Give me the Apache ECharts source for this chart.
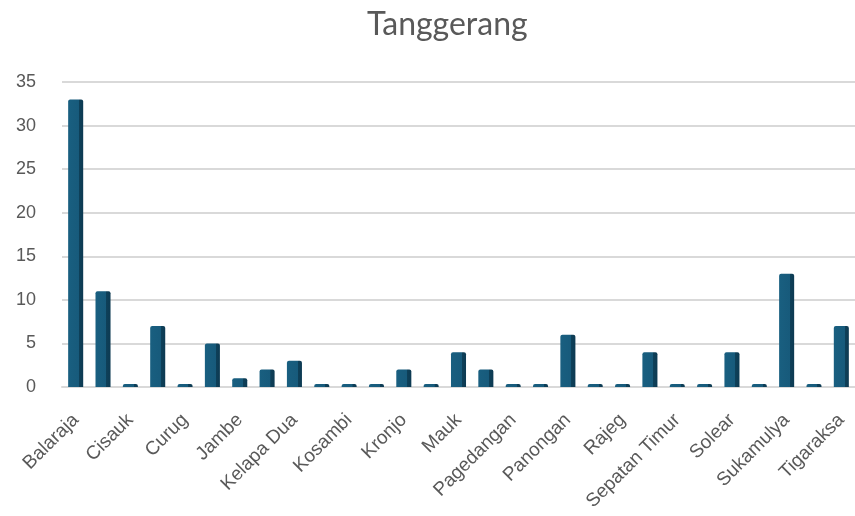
<!DOCTYPE html>
<html>
<head>
<meta charset="utf-8">
<script src="https://cdn.jsdelivr.net/npm/echarts@6/dist/echarts.min.js"></script>
<style>
  html, body { margin: 0; padding: 0; background: #ffffff; }
  #chart { width: 855px; height: 516px; }
</style>
</head>
<body>
<div id="chart"></div>
<script>
// Kecamatan in Kabupaten Tangerang, alphabetical
const kecamatan = [
  'Balaraja', 'Cikupa', 'Cisauk', 'Cisoka', 'Curug', 'Gunung Kaler', 'Jambe', 'Jayanti',
  'Kelapa Dua', 'Kemiri', 'Kosambi', 'Kresek', 'Kronjo', 'Legok', 'Mauk', 'Mekar Baru',
  'Pagedangan', 'Pakuhaji', 'Panongan', 'Pasar Kemis', 'Rajeg', 'Sepatan', 'Sepatan Timur',
  'Sindang Jaya', 'Solear', 'Sukadiri', 'Sukamulya', 'Teluknaga', 'Tigaraksa'
];
const jumlah = [
  33, 11, 0, 7, 0, 5, 1, 2,
  3, 0, 0, 0, 2, 0, 4, 2,
  0, 0, 6, 0, 0, 4, 0,
  0, 4, 0, 13, 0, 7
];
const yTicks = [0, 5, 10, 15, 20, 25, 30, 35];

const chart = echarts.init(document.getElementById('chart'), null, { renderer: 'canvas' });

// column fill: front face plus a darker side face for a slight depth effect
const barFill = new echarts.graphic.LinearGradient(0, 0, 1, 0, [
  { offset: 0, color: '#195f80' },
  { offset: 0.72, color: '#175a7b' },
  { offset: 0.73, color: '#0e4059' },
  { offset: 1, color: '#0d3a52' }
]);

chart.setOption({
  animation: false,
  title: {
    text: 'Tanggerang',
    left: 362,
    top: 4,
    textStyle: { fontFamily: 'Lato', fontSize: 32, fontWeight: 'normal', color: '#595959' }
  },
  grid: { left: 62, right: 0, top: 82, bottom: 129 },
  xAxis: {
    type: 'category',
    data: kecamatan,
    axisTick: { show: false },
    axisLine: { show: true, lineStyle: { color: '#d9d9d9', width: 2 } },
    axisLabel: {
      interval: 1,
      rotate: 45,
      margin: 30,
      fontFamily: 'Liberation Sans',
      fontSize: 19,
      color: '#595959'
    }
  },
  yAxis: {
    type: 'value',
    min: yTicks[0],
    max: yTicks[yTicks.length - 1],
    interval: 5,
    axisLine: { show: false },
    axisTick: { show: false },
    splitLine: { lineStyle: { color: '#d9d9d9', width: 2 } },
    axisLabel: {
      margin: 26,
      padding: [8, 0, 0, 0],
      fontFamily: 'Liberation Sans',
      fontSize: 18,
      color: '#595959'
    }
  },
  series: [{
    type: 'bar',
    data: jumlah,
    barWidth: '55%',
    barMinHeight: 3,
    itemStyle: { color: barFill, borderRadius: [2, 2, 0, 0] }
  }]
});
</script>
</body>
</html>
